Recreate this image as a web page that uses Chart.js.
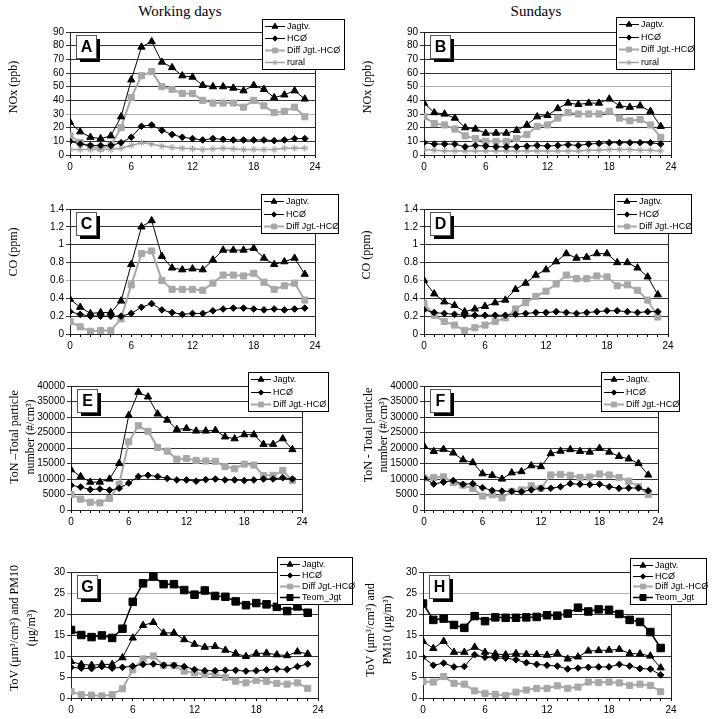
<!DOCTYPE html>
<html>
<head>
<meta charset="utf-8">
<title>Diurnal variation - working days and Sundays</title>
<script src="https://cdn.jsdelivr.net/npm/chart.js@4.4.0/dist/chart.umd.min.js"></script>
<style>
    body { margin: 0; background: #fff; }
    #page { position: relative; width: 712px; height: 719px; overflow: hidden; background: #fff; }
    #page canvas { position: absolute; }
    .col-title {
        position: absolute; top: 3px; width: 360px; text-align: center;
        font-family: "Liberation Serif", "Times New Roman", serif; font-size: 15px; color: #000;
    }
</style>
</head>
<body>
<div id="page">
    <div class="col-title" style="left:0">Working days</div>
    <div class="col-title" style="left:356px">Sundays</div>
</div>
<script>
// Hours of the day (x axis)
const hours = [0, 1, 2, 3, 4, 5, 6, 7, 8, 9, 10, 11, 12, 13, 14, 15, 16, 17, 18, 19, 20, 21, 22, 23];

// A - NOx (ppb), working days
const noxWorkJagtv = [24, 17, 13, 12, 14, 28, 55, 79, 83, 68, 64, 58, 57, 51, 50, 50, 49, 47, 51, 48, 42, 44, 47, 41];
const noxWorkHco   = [10, 8, 7, 7, 7, 9, 13, 21, 22, 18, 15, 13, 12, 11, 12, 11.5, 11, 11, 11, 11, 10.5, 11, 12, 12];
const noxWorkDiff  = [14, 9, 6, 5, 7, 20, 42, 58, 61, 50, 48, 45, 45, 40, 38, 38, 38, 35, 40, 36, 31, 32, 35, 28];
const noxWorkRural = [4, 4, 4, 4, 4, 5, 7, 9, 8, 6.5, 5.5, 5, 4.5, 4, 4.5, 5, 4.5, 4, 4, 4, 4, 5, 5, 5];

// B - NOx (ppb), Sundays
const noxSunJagtv = [38, 31, 30, 27, 20, 19, 16, 16, 16, 18, 22, 28, 29, 34, 38, 37, 38, 38, 41, 36, 35, 36, 32, 21];
const noxSunHco   = [9, 8, 8, 8, 6, 7, 6.5, 6, 6, 6, 6.5, 7, 6.5, 7, 7.5, 7, 8, 8.5, 9, 9, 9, 9, 9, 8];
const noxSunDiff  = [28, 23, 22, 19, 14, 12, 10, 10, 10, 12, 15, 21, 22, 27, 31, 30, 30, 30, 32, 27, 25, 26, 22, 13];
const noxSunRural = [4, 3.5, 3, 3, 3, 3, 3, 3, 3, 3, 3, 3, 3, 3, 3, 3, 3.5, 3.5, 4, 4, 4, 3.5, 3.5, 3];

// C - CO (ppm), working days
const coWorkJagtv = [0.39, 0.30, 0.23, 0.24, 0.24, 0.37, 0.78, 1.20, 1.27, 0.87, 0.74, 0.72, 0.73, 0.72, 0.83, 0.94, 0.94, 0.94, 0.96, 0.85, 0.78, 0.81, 0.85, 0.67];
const coWorkHco   = [0.25, 0.22, 0.20, 0.20, 0.20, 0.20, 0.23, 0.30, 0.34, 0.27, 0.24, 0.22, 0.23, 0.23, 0.26, 0.28, 0.29, 0.29, 0.28, 0.27, 0.28, 0.27, 0.28, 0.29];
const coWorkDiff  = [0.14, 0.08, 0.03, 0.04, 0.04, 0.17, 0.55, 0.90, 0.93, 0.60, 0.50, 0.50, 0.50, 0.49, 0.57, 0.66, 0.66, 0.65, 0.68, 0.58, 0.50, 0.54, 0.57, 0.38];

// D - CO (ppm), Sundays
const coSunJagtv = [0.60, 0.45, 0.36, 0.32, 0.25, 0.28, 0.31, 0.35, 0.38, 0.50, 0.57, 0.66, 0.72, 0.81, 0.90, 0.85, 0.86, 0.90, 0.90, 0.80, 0.80, 0.74, 0.64, 0.44];
const coSunHco   = [0.27, 0.24, 0.23, 0.22, 0.21, 0.21, 0.21, 0.21, 0.21, 0.22, 0.23, 0.24, 0.24, 0.25, 0.24, 0.23, 0.24, 0.25, 0.26, 0.26, 0.25, 0.24, 0.25, 0.25];
const coSunDiff  = [0.34, 0.21, 0.14, 0.10, 0.04, 0.07, 0.10, 0.14, 0.18, 0.28, 0.35, 0.42, 0.48, 0.56, 0.66, 0.62, 0.62, 0.65, 0.64, 0.54, 0.55, 0.49, 0.38, 0.19];

// E - total particle number (#/cm3), working days
const tonWorkJagtv = [13000, 10800, 9000, 9000, 10000, 15000, 30500, 38000, 36500, 31000, 29000, 26000, 26300, 25500, 25500, 25700, 23600, 23000, 24300, 24300, 21200, 21200, 23000, 19500];
const tonWorkHco   = [8000, 7400, 6600, 6800, 6400, 7000, 8700, 10800, 11200, 10800, 10200, 9700, 9700, 9300, 9800, 10000, 9700, 9700, 9500, 9700, 10000, 10000, 10400, 10000];
const tonWorkDiff  = [5000, 3500, 2500, 2300, 3700, 8300, 22000, 27200, 25400, 20200, 19000, 16400, 16600, 16000, 15800, 15700, 14000, 13300, 14800, 14500, 11100, 11200, 12700, 9500];

// F - total particle number (#/cm3), Sundays
const tonSunJagtv = [20600, 18900, 19600, 18400, 16200, 15300, 11700, 11200, 10000, 12000, 12400, 14300, 14000, 18200, 19000, 19500, 18900, 18700, 19900, 18700, 17300, 16500, 15000, 11300];
const tonSunHco   = [10300, 8400, 9000, 9500, 8300, 8500, 7200, 6300, 6100, 6000, 5900, 6500, 7000, 7000, 7500, 8500, 8300, 8200, 8300, 7500, 7000, 7100, 7100, 6200];
const tonSunDiff  = [10300, 10500, 10700, 8800, 8000, 6900, 4500, 4900, 3900, 6000, 6500, 7800, 7000, 11300, 11500, 11200, 10500, 10600, 11600, 11300, 10500, 9300, 7500, 5000];

// G - total volume and PM10, working days
const tovWorkJagtv = [8.7, 8.0, 7.8, 8.0, 8.0, 9.6, 14.3, 17.3, 18.0, 15.5, 15.5, 13.9, 12.8, 12.1, 12.3, 11.4, 10.6, 9.9, 10.6, 10.7, 10.3, 10.1, 11.0, 10.5];
const tovWorkHco   = [7.3, 7.1, 7.0, 7.5, 7.1, 7.3, 7.6, 8.0, 8.1, 7.8, 7.8, 7.5, 6.8, 6.5, 6.5, 6.6, 6.6, 6.4, 6.5, 6.7, 6.9, 6.8, 7.5, 8.1];
const tovWorkDiff  = [1.5, 0.8, 0.7, 0.5, 0.8, 2.2, 6.7, 9.3, 10.0, 7.7, 7.7, 6.4, 6.0, 5.6, 5.8, 4.9, 4.0, 3.6, 4.2, 4.0, 3.5, 3.3, 3.6, 2.3];
const tovWorkTeom  = [16.2, 15.0, 14.5, 14.9, 14.3, 16.5, 22.9, 27.3, 28.9, 27.1, 27.1, 25.7, 24.6, 25.6, 24.3, 24.1, 23.0, 22.1, 22.6, 22.3, 21.7, 20.7, 21.8, 20.3];

// H - total volume and PM10, Sundays
const tovSunJagtv = [13.5, 11.8, 13.5, 10.9, 10.9, 12.1, 10.9, 10.5, 10.3, 10.6, 10.4, 10.4, 10.2, 10.6, 9.3, 9.8, 11.2, 11.3, 11.4, 11.6, 10.6, 10.5, 10.0, 7.2];
const tovSunHco   = [9.7, 7.8, 8.3, 7.4, 7.5, 10.3, 9.7, 9.5, 9.5, 9.1, 8.4, 8.0, 7.8, 7.6, 6.9, 7.1, 7.3, 7.4, 7.4, 8.0, 7.6, 7.0, 6.9, 5.5];
const tovSunDiff  = [3.9, 3.8, 5.1, 3.5, 3.3, 1.7, 1.1, 0.9, 0.6, 1.4, 1.9, 2.3, 2.3, 2.9, 2.3, 2.6, 3.8, 3.7, 3.8, 3.6, 3.0, 3.3, 3.0, 1.5];
const tovSunTeom  = [22.5, 18.6, 18.9, 17.4, 16.7, 19.5, 18.3, 19.2, 19.1, 19.1, 19.2, 19.3, 19.7, 19.6, 20.1, 21.5, 20.6, 21.1, 21.0, 20.0, 18.6, 18.1, 15.7, 11.9];

const SANS = '"Liberation Sans", Arial, sans-serif';
const SERIF = '"Liberation Serif", "Times New Roman", serif';
const Y_AXIS_W = 40;
const X_AXIS_H = 20;

// Look of each series (same in every panel)
const seriesStyle = {
    'Jagtv.':        { color: '#000', width: 1,   marker: 'triangle', radius: 4.2 },
    'HCØ':           { color: '#000', width: 1,   marker: 'rectRot',  radius: 3.3 },
    'Diff Jgt.-HCØ': { color: '#a8a8a8', width: 2, marker: 'rect',    radius: 4.3 },
    'rural':         { color: '#a0a0a0', width: 1.5, marker: 'star',  radius: 3.5 },
    'Teom_Jgt':      { color: '#000', width: 1.5, marker: 'rect',     radius: 5.3 }
};

// Panel layout, page coordinates: cell = [x, y, w, h], plot = [left, top, right, bottom]
const panels = [
    { letter: 'A', cell: [0, 0, 356, 175], plot: [70, 32, 315, 155], yMax: 90, yStep: 10, faded: 30,
      yTitle: ['NOx (ppb)'], yTitleX: [14], yTitleY: 87, legend: [262, 19, 344, 69],
      series: [['Jagtv.', noxWorkJagtv], ['HCØ', noxWorkHco], ['Diff Jgt.-HCØ', noxWorkDiff], ['rural', noxWorkRural]] },
    { letter: 'B', cell: [356, 0, 356, 175], plot: [424, 32, 671, 155], yMax: 90, yStep: 10, faded: 50,
      yTitle: ['NOx (ppb)'], yTitleX: [368], yTitleY: 87, legend: [616, 17, 694, 69],
      series: [['Jagtv.', noxSunJagtv], ['HCØ', noxSunHco], ['Diff Jgt.-HCØ', noxSunDiff], ['rural', noxSunRural]] },
    { letter: 'C', cell: [0, 175, 356, 180], plot: [70, 209, 315, 334], yMax: 1.4, yStep: 0.2, faded: 0.6,
      yTitle: ['CO (ppm)'], yTitleX: [14], yTitleY: 252, legend: [261, 194, 338, 233],
      series: [['Jagtv.', coWorkJagtv], ['HCØ', coWorkHco], ['Diff Jgt.-HCØ', coWorkDiff]] },
    { letter: 'D', cell: [356, 175, 356, 180], plot: [424, 209, 668, 334], yMax: 1.4, yStep: 0.2, faded: 0.6,
      yTitle: ['CO (ppm)'], yTitleX: [367], yTitleY: 255, legend: [614, 194, 691, 233],
      series: [['Jagtv.', coSunJagtv], ['HCØ', coSunHco], ['Diff Jgt.-HCØ', coSunDiff]] },
    { letter: 'E', cell: [0, 355, 356, 180], plot: [71, 386, 302, 510], yMax: 40000, yStep: 5000, faded: null,
      yTitle: ['ToN –Total particle', 'number (#/cm³)'], yTitleX: [15, 31], yTitleY: 437, legend: [248, 372, 328, 411],
      series: [['Jagtv.', tonWorkJagtv], ['HCØ', tonWorkHco], ['Diff Jgt.-HCØ', tonWorkDiff]] },
    { letter: 'F', cell: [356, 355, 356, 180], plot: [424, 386, 658, 510], yMax: 40000, yStep: 5000, faded: null,
      yTitle: ['ToN - Total particle', 'number (#/cm³)'], yTitleX: [369, 384], yTitleY: 435, legend: [601, 372, 679, 411],
      series: [['Jagtv.', tonSunJagtv], ['HCØ', tonSunHco], ['Diff Jgt.-HCØ', tonSunDiff]] },
    { letter: 'G', cell: [0, 535, 356, 184], plot: [71, 572, 318, 698], yMax: 30, yStep: 5, faded: 25,
      yTitle: ['ToV (μm³/cm³) and PM10', '(μg/m³)'], yTitleX: [15, 32], yTitleY: 628, legend: [277, 557, 352, 604],
      series: [['Jagtv.', tovWorkJagtv], ['HCØ', tovWorkHco], ['Diff Jgt.-HCØ', tovWorkDiff], ['Teom_Jgt', tovWorkTeom]] },
    { letter: 'H', cell: [356, 535, 356, 184], plot: [423, 572, 671, 698], yMax: 30, yStep: 5, faded: 25,
      yTitle: ['ToV (μm³/cm³) and', 'PM10 (μg/m³)'], yTitleX: [371, 388], yTitleY: 630, legend: [630, 558, 706, 604],
      series: [['Jagtv.', tovSunJagtv], ['HCØ', tovSunHco], ['Diff Jgt.-HCØ', tovSunDiff], ['Teom_Jgt', tovSunTeom]] }
];

/**
 * Draws marker shapes (chart and legend)
 */
function drawMarker(ctx, style, x, y, radius) {
    ctx.fillStyle = style.color;
    ctx.strokeStyle = style.color;
    ctx.lineWidth = 1;
    Chart.helpers.drawPoint(ctx, { pointStyle: style.marker, radius: radius, rotation: 0, borderWidth: 1 }, x, y);
}

/**
 * Plot frame, letter box, legend box and y axis title
 */
const panelDecor = {
    id: 'panelDecor',
    beforeDatasetsDraw(chart) {
        const ctx = chart.ctx, a = chart.chartArea;
        ctx.save();
        ctx.strokeStyle = '#222';
        ctx.lineWidth = 1;
        ctx.strokeRect(Math.round(a.left) + 0.5, Math.round(a.top) + 0.5,
            Math.round(a.right - a.left), Math.round(a.bottom - a.top));
        ctx.restore();
    },
    afterDraw(chart, args, opts) {
        const ctx = chart.ctx, a = chart.chartArea;
        const p = opts.panel;
        const ox = p.cell[0], oy = p.cell[1];
        ctx.save();

        // Letter box with drop shadow
        const bx = Math.round(a.left) + 6, by = Math.round(a.top) + 3, bw = 20, bh = 23;
        ctx.fillStyle = '#000';
        ctx.fillRect(bx + 4, by + 4, bw, bh);
        ctx.fillStyle = '#fff';
        ctx.fillRect(bx, by, bw, bh);
        ctx.strokeStyle = '#555';
        ctx.lineWidth = 1;
        ctx.strokeRect(bx + 0.5, by + 0.5, bw, bh);
        ctx.fillStyle = '#000';
        ctx.font = 'bold 16px "Liberation Sans Narrow", ' + SANS;
        ctx.textAlign = 'center';
        ctx.textBaseline = 'middle';
        ctx.fillText(p.letter, bx + bw / 2 + 0.5, by + bh / 2 + 1);

        // Legend box
        const [l, t, r, b] = p.legend;
        const lx = l - ox, ly = t - oy, lw = r - l, lh = b - t;
        ctx.fillStyle = '#fff';
        ctx.fillRect(lx, ly, lw, lh);
        ctx.strokeStyle = '#000';
        ctx.strokeRect(lx + 0.5, ly + 0.5, lw, lh);
        const rows = chart.data.datasets.length;
        const step = (lh - 14) / (rows - 1);
        ctx.font = '9px ' + SANS;
        ctx.textAlign = 'left';
        chart.data.datasets.forEach(function(ds, i) {
            const st = seriesStyle[ds.label];
            const ry = Math.round(ly + 7 + i * step) + 0.5;
            ctx.strokeStyle = st.color;
            ctx.lineWidth = Math.max(1, st.width);
            ctx.beginPath();
            ctx.moveTo(lx + 3, ry);
            ctx.lineTo(lx + 23, ry);
            ctx.stroke();
            drawMarker(ctx, st, lx + 13, ry, st.radius * 0.8);
            ctx.fillStyle = '#000';
            ctx.fillText(ds.label, lx + 25, ry + 0.5);
        });

        // Y axis title (rotated)
        ctx.font = '12px ' + SERIF;
        ctx.fillStyle = '#000';
        ctx.textAlign = 'center';
        ctx.textBaseline = 'middle';
        p.yTitle.forEach(function(line, i) {
            ctx.save();
            ctx.translate(p.yTitleX[i] - ox, p.yTitleY - oy);
            ctx.rotate(-Math.PI / 2);
            ctx.fillText(line, 0, 0);
            ctx.restore();
        });
        ctx.restore();
    }
};

function yTickLabel(v) {
    return String(+v.toFixed(2));
}

Chart.defaults.font.family = SANS;
Chart.defaults.color = '#000';

panels.forEach(function(p) {
    const [cx, cy, cw, ch] = p.cell;
    const canvas = document.createElement('canvas');
    canvas.width = cw;
    canvas.height = ch;
    canvas.style.left = cx + 'px';
    canvas.style.top = cy + 'px';
    document.getElementById('page').appendChild(canvas);

    const datasets = p.series.map(function(s) {
        const st = seriesStyle[s[0]];
        return {
            label: s[0],
            data: hours.map(function(h, i) { return { x: h, y: s[1][i] }; }),
            borderColor: st.color,
            backgroundColor: st.color,
            borderWidth: st.width,
            pointStyle: st.marker,
            pointRadius: st.radius,
            pointBackgroundColor: st.color,
            pointBorderColor: st.color,
            pointBorderWidth: 1,
            tension: 0
        };
    });

    new Chart(canvas, {
        type: 'line',
        data: { datasets: datasets },
        options: {
            responsive: false,
            animation: false,
            layout: {
                padding: {
                    left: p.plot[0] - cx - Y_AXIS_W,
                    top: p.plot[1] - cy,
                    right: cx + cw - p.plot[2],
                    bottom: cy + ch - p.plot[3] - X_AXIS_H
                }
            },
            scales: {
                x: {
                    type: 'linear', min: 0, max: 24,
                    afterFit: function(scale) { scale.height = X_AXIS_H; },
                    ticks: {
                        stepSize: 1, maxTicksLimit: 100, autoSkip: false, maxRotation: 0, padding: 3,
                        font: { size: 10 },
                        callback: function(v) { return v % 6 === 0 ? String(v) : ''; }
                    },
                    grid: { drawOnChartArea: false, tickLength: 3, color: '#000' },
                    border: { color: '#000' }
                },
                y: {
                    min: 0, max: p.yMax,
                    afterFit: function(scale) { scale.width = Y_AXIS_W; },
                    ticks: {
                        stepSize: p.yStep, maxTicksLimit: 100, autoSkip: false, padding: 2,
                        font: { size: 10 }, callback: yTickLabel
                    },
                    grid: {
                        tickLength: 4,
                        color: function(c) {
                            return (p.faded !== null && c.tick && Math.abs(c.tick.value - p.faded) < 1e-6) ? '#b0b0b0' : '#333';
                        }
                    },
                    border: { color: '#000' }
                }
            },
            plugins: {
                legend: { display: false },
                tooltip: { enabled: false },
                panelDecor: { panel: p }
            }
        },
        plugins: [panelDecor]
    });
});
</script>
</body>
</html>
